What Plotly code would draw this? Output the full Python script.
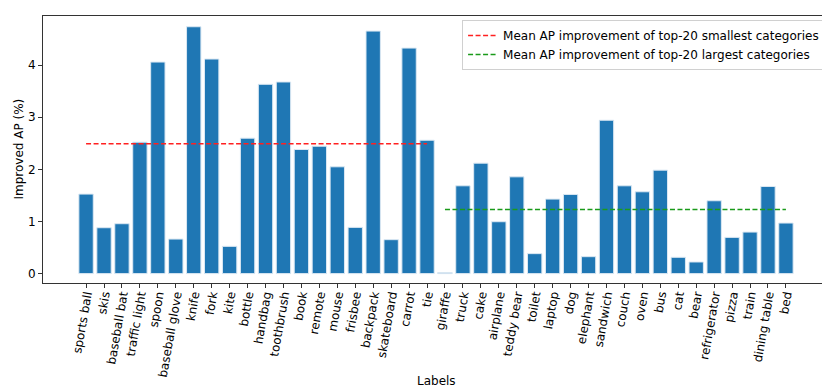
import plotly.graph_objects as go

# top-20 smallest categories, then top-20 largest categories
labels = [
    'sports ball', 'skis', 'baseball bat', 'traffic light', 'spoon',
    'baseball glove', 'knife', 'fork', 'kite', 'bottle',
    'handbag', 'toothbrush', 'book', 'remote', 'mouse',
    'frisbee', 'backpack', 'skateboard', 'carrot', 'tie',
    'giraffe', 'truck', 'cake', 'airplane', 'teddy bear',
    'toilet', 'laptop', 'dog', 'elephant', 'sandwich',
    'couch', 'oven', 'bus', 'cat', 'bear',
    'refrigerator', 'pizza', 'train', 'dining table', 'bed',
]
improved_ap = [
    1.525, 0.88, 0.957, 2.52, 4.057, 0.663, 4.734, 4.115, 0.523, 2.597,
    3.63, 3.675, 2.38, 2.443, 2.048, 0.887, 4.651, 0.651, 4.325, 2.558,
    0.02, 1.684, 2.118, 0.995, 1.856, 0.383, 1.429, 1.518, 0.325, 2.941,
    1.684, 1.569, 1.984, 0.313, 0.223, 1.397, 0.695, 0.797, 1.671, 0.970,
]

small_labels = labels[:20]
large_labels = labels[20:]
mean_small = sum(improved_ap[:20]) / 20
mean_large = sum(improved_ap[20:]) / 20

font = 'DejaVu Sans'
fsize = 12

fig = go.Figure()
fig.add_trace(go.Bar(
    x=labels,
    y=improved_ap,
    marker_color='#1f77b4',
    marker_line=dict(color='#dbe8f3', width=1),
    showlegend=False,
))
fig.add_trace(go.Scatter(
    x=[small_labels[0], small_labels[-1]],
    y=[mean_small, mean_small],
    mode='lines',
    line=dict(color='#ff2020', width=1.5, dash='5px,2.5px'),
    name='Mean AP improvement of top-20 smallest categories',
))
fig.add_trace(go.Scatter(
    x=[large_labels[0], large_labels[-1]],
    y=[mean_large, mean_large],
    mode='lines',
    line=dict(color='#1a9a1a', width=1.5, dash='5px,2.5px'),
    name='Mean AP improvement of top-20 largest categories',
))

axis_common = dict(
    showline=True, linecolor='#333333', linewidth=1, mirror=True,
    ticks='outside', ticklen=4, tickcolor='#333333',
    showgrid=False, zeroline=False, automargin=False,
    tickfont=dict(family=font, size=fsize, color='black'),
)

fig.update_layout(
    width=830, height=388,
    margin=dict(l=35, r=9, t=8, b=113),
    plot_bgcolor='white', paper_bgcolor='white',
    font=dict(family=font, size=fsize, color='black'),
    bargap=0.2,
    xaxis=dict(
        **axis_common,
        type='category',
        range=[-2.4, 41.4],
        tickangle=-80,
        ticklabelstandoff=-5,
    ),
    yaxis=dict(
        **axis_common,
        range=[-0.18, 4.94],
        tickvals=[0, 1, 2, 3, 4],
    ),
    legend=dict(
        x=0.995, y=0.985, xanchor='right', yanchor='top',
        bgcolor='rgba(255,255,255,0.8)',
        bordercolor='#d0d0d0', borderwidth=1,
        font=dict(family=font, size=fsize),
        tracegroupgap=0,
        itemwidth=30,
    ),
    annotations=[
        dict(text='Labels', xref='paper', yref='paper', x=0.5, y=0,
             yshift=-98, showarrow=False, xanchor='center', yanchor='middle',
             font=dict(family=font, size=fsize)),
        dict(text='Improved AP (%)', xref='paper', yref='paper', x=0, y=0.5,
             xshift=-25, showarrow=False, textangle=-90,
             xanchor='center', yanchor='middle',
             font=dict(family=font, size=fsize)),
    ],
)

fig.write_html("out.html")
